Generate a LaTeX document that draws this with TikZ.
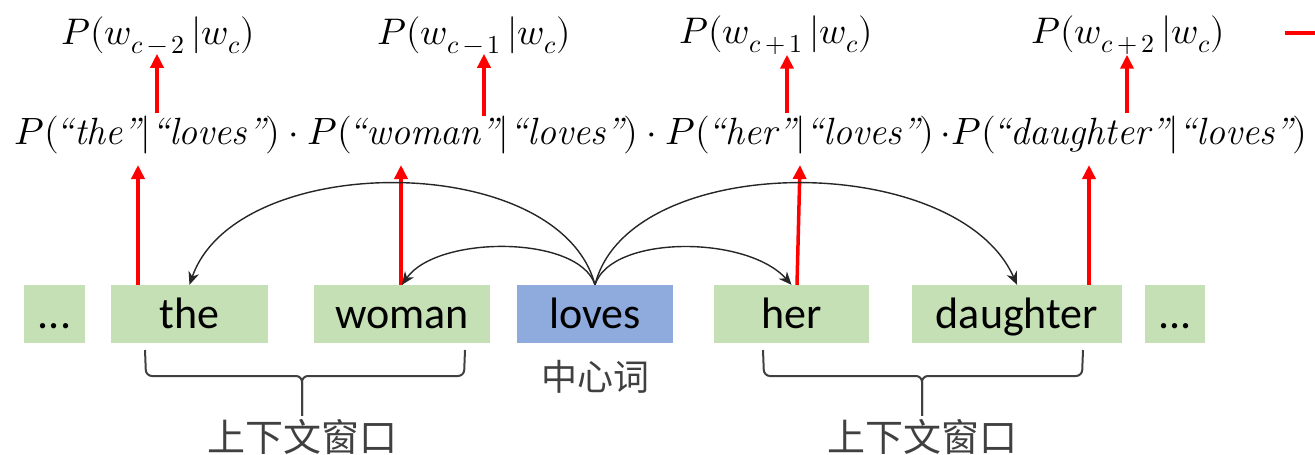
\documentclass[tikz,border=0pt]{standalone}
\usepackage{fontspec}
\usepackage{unicode-math}
\newfontfamily\boxfont{Carlito}
\newfontfamily\cjk{Noto Sans CJK SC}
\usetikzlibrary{arrows.meta}
\definecolor{wordgreen}{HTML}{C5E0B4}
\definecolor{centerblue}{HTML}{8FAADC}
\definecolor{bracegray}{HTML}{404040}

\begin{document}
\begin{tikzpicture}[x=1pt,y=-1pt,>=Stealth,
  word/.style={fill=wordgreen,minimum height=58pt,inner sep=0pt,text height=32pt,text depth=4pt,
    font=\boxfont\fontsize{44}{44}\selectfont},
  redarrow/.style={draw=red,line width=3.5pt,-{Triangle[length=14pt,width=13pt]}},
  curvearrow/.style={draw=black!85,line width=1.4pt,-{Stealth[length=13pt,width=11pt]}},
  braceline/.style={draw=bracegray,line width=2pt,rounded corners=6pt},
  cjklabel/.style={text=bracegray,font=\cjk\fontsize{36}{36}\selectfont},
  condprob/.style={inner sep=0pt,font=\fontsize{37}{37}\selectfont}]

\useasboundingbox (0,0) rectangle (1315,455);

% ---- Word boxes ----
\node[word,minimum width=61pt] (dotsl) at (54.5,314) {...};
\node[word,minimum width=157pt] (the) at (189.5,314) {the};
\node[word,minimum width=176pt] (woman) at (402,314) {woman};
\node[word,fill=centerblue,minimum width=156pt] (loves) at (595,314) {loves};
\node[word,minimum width=155pt] (her) at (791.5,314) {her};
\node[word,minimum width=210pt] (daughter) at (1017,314) {daughter};
\node[word,minimum width=60pt] (dotsr) at (1175,314) {...};

% ---- Labels below ----
\node[cjklabel] (center) at (595,377) {中心词};
\node[cjklabel,font=\cjk\fontsize{38}{38}\selectfont] (winl) at (302,437) {上下文窗口};
\node[cjklabel,font=\cjk\fontsize{38}{38}\selectfont] (winr) at (922,437) {上下文窗口};

% braces
\draw[braceline] (145,350) -- (146,376) -- (302,376) -- (winl.north);
\draw[braceline] (465,350) -- (464,376) -- (302,376) -- (winl.north);
\draw[braceline] (763,350) -- (764,376) -- (922,376) -- (winr.north);
\draw[braceline] (1083,350) -- (1082,376) -- (922,376) -- (winr.north);

% ---- Product of probabilities ----
\node[inner sep=0pt,font=\fontsize{38}{38}\selectfont] (formula) at (661,135)
  {$P(\kern-3pt\textit{“the”}|\textit{“loves”})\cdot P(\kern-3pt\textit{“woman”}|\textit{“loves”})\cdot P(\kern-3pt\textit{“her”}|\textit{“loves”})\,{\cdot}P(\kern-3pt\textit{“daughter”}|\textit{“loves”})$};

% ---- Conditional probabilities on top ----
\node[condprob] (pm2) at (158,35) {$P(w_{c\,-\,2}\,|w_c)$};
\node[condprob] (pm1) at (474,35) {$P(w_{c\,-\,1}\,|w_c)$};
\node[condprob] (pp1) at (776,35) {$P(w_{c\,+\,1}\,|w_c)$};
\node[condprob] (pp2) at (1128,35) {$P(w_{c\,+\,2}\,|w_c)$};

% ---- Red arrows ----
\coordinate (r1) at (138,165);
\coordinate (r2) at (401,165);
\coordinate (r3) at (800,165);
\coordinate (r4) at (1089,165);
\draw[redarrow] (the.north -| r1) -- (r1);
\draw[redarrow] (woman.north -| r2) -- (r2);
\draw[redarrow] (797,285) -- (r3);
\draw[redarrow] (daughter.north -| r4) -- (r4);

\coordinate (u1) at (157,113);
\coordinate (u2) at (484,116);
\coordinate (u3) at (787,113);
\coordinate (u4) at (1127,113);
\draw[redarrow] (u1) -- (u1 |- pm2.south);
\draw[redarrow] (u2) -- (u2 |- pm1.south);
\draw[redarrow] (u3) -- (u3 |- pp1.south);
\draw[redarrow] (u4) -- (u4 |- pp2.south);

\coordinate (legend) at (1285,33);
\draw[draw=red,line width=3.5pt] (legend) -- ++(40,0);

% ---- Arcs from the centre word ----
\draw[curvearrow] (loves.north) .. controls +(-16,-50) and +(35,-50) .. (woman.north);
\draw[curvearrow] (loves.north) .. controls +(-36,-135) and +(47,-135) .. (the.north);
\draw[curvearrow] (loves.north) .. controls +(16,-50) and +(-45,-50) .. (her.north);
\draw[curvearrow] (loves.north) .. controls +(34,-135) and +(-60,-135) .. (daughter.north);

\end{tikzpicture}
\end{document}
